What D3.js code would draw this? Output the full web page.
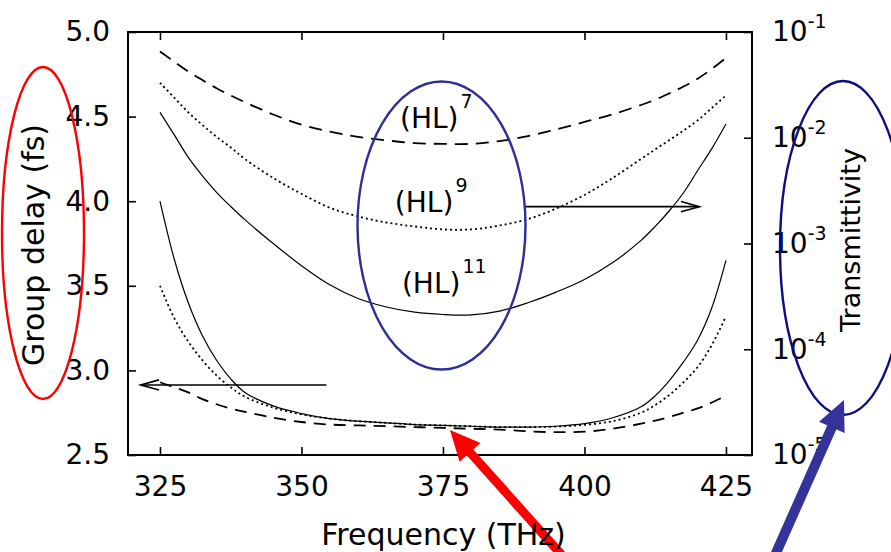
<!DOCTYPE html>
<html><head><meta charset="utf-8">
<script src="https://cdn.jsdelivr.net/npm/d3@7"></script>
<style>
body{margin:0;background:#fff}
svg{display:block}
text{font-family:"DejaVu Sans",sans-serif;fill:#000}
</style></head>
<body><svg id="chart" width="891" height="552"></svg>
<script>
// ---- data ----
const freq = [325, 327.5, 330, 332.5, 335, 337.5, 340, 345, 350, 355, 360, 365, 370, 375, 380, 385, 390, 395, 400, 405, 410, 412.5, 415, 417.5, 420, 422.5, 425];
// transmittivity (right, log axis)
const tr7  = [0.0653,0.0525,0.0423,0.0351,0.0294,0.0251,0.0217,0.0166,0.0133,0.0114,0.0102,0.00944,0.0089,0.00875,0.00875,0.0093,0.01035,0.0120,0.0141,0.0167,0.0204,0.0229,0.0263,0.0305,0.0362,0.0447,0.0569];
const tr9  = [0.0331,0.0240,0.0174,0.0132,0.0102,0.0081,0.0063,0.00417,0.00295,0.00218,0.00180,0.00158,0.00145,0.00136,0.00136,0.00148,0.0017,0.00214,0.00288,0.00417,0.0063,0.00776,0.0095,0.0117,0.0146,0.0191,0.0251];
const tr11 = [0.0174,0.0107,0.00653,0.00437,0.00305,0.00224,0.00168,0.0010,0.000617,0.000407,0.000302,0.000251,0.000224,0.000213,0.000211,0.000229,0.000275,0.000347,0.000457,0.00066,0.00107,0.00145,0.00204,0.00302,0.0049,0.0079,0.0135];
// group delay (left axis, fs)
const gd7  = [2.93,2.90,2.87,2.83,2.80,2.775,2.755,2.72,2.695,2.68,2.675,2.67,2.665,2.66,2.655,2.65,2.64,2.635,2.638,2.655,2.685,2.703,2.725,2.75,2.775,2.81,2.85];
const gd9  = [3.50,3.31,3.17,3.06,2.97,2.90,2.845,2.78,2.74,2.715,2.70,2.69,2.68,2.675,2.67,2.665,2.665,2.668,2.678,2.70,2.75,2.795,2.855,2.93,3.02,3.15,3.32];
const gd11 = [4.00,3.66,3.40,3.205,3.06,2.95,2.87,2.79,2.745,2.715,2.70,2.69,2.68,2.675,2.67,2.665,2.665,2.67,2.685,2.72,2.785,2.85,2.94,3.05,3.18,3.37,3.65];
const xTicks = [325, 350, 375, 400, 425];
const yLeftTicks = [2.5, 3.0, 3.5, 4.0, 4.5, 5.0];
const yRightTicks = [1e-5, 1e-4, 1e-3, 1e-2, 1e-1];
const yRightExp = ["-5", "-4", "-3", "-2", "-1"];
const seriesLabels = [
  {base: "(HL)", sup: "7",  f: 367.4,  t: 0.01236},
  {base: "(HL)", sup: "9",  f: 366.5,  t: 0.0020},
  {base: "(HL)", sup: "11", f: 367.75, t: 3.38e-4}
];

// ---- scales ----
const svg = d3.select('#chart');
const x  = d3.scaleLinear().domain([319.35, 429.6]).range([128, 752]);
const yL = d3.scaleLinear().domain([2.5, 5]).range([455, 32]);
const yR = d3.scaleLog().domain([1e-5, 1e-1]).range([455, 32]);

// ---- axes ----
const fontSize = 28;
const gx = svg.append('g').attr('transform', 'translate(0,455)')
  .call(d3.axisBottom(x).tickValues(xTicks).tickSize(-8).tickPadding(21).tickFormat(d3.format('d')));
const gt = svg.append('g').attr('transform', 'translate(0,32)')
  .call(d3.axisTop(x).tickValues(xTicks).tickSize(-8).tickFormat(''));
const gl = svg.append('g').attr('transform', 'translate(128,0)')
  .call(d3.axisLeft(yL).tickValues(yLeftTicks).tickSize(-8).tickPadding(18).tickFormat(d3.format('.1f')));
const gr = svg.append('g').attr('transform', 'translate(752,0)')
  .call(d3.axisRight(yR).tickValues(yRightTicks).tickSize(-8).tickPadding(20).tickFormat(''));
[gx, gt, gl, gr].forEach(g => {
  g.select('.domain').remove();
  g.selectAll('.tick line').attr('stroke', '#000').attr('stroke-width', 1.6);
  g.selectAll('.tick text').attr('font-size', fontSize).attr('font-family', '"DejaVu Sans",sans-serif').attr('fill', '#000');
});
// right log labels: 10^n
gr.selectAll('.tick text').each(function(d, i) {
  const t = d3.select(this);
  t.text(null);
  t.append('tspan').text('10');
  t.append('tspan').attr('font-size', 19).attr('dy', '-13').text(yRightExp[i]);
});

// plot box
svg.append('rect')
  .attr('x', x.range()[0]).attr('y', yL.range()[1])
  .attr('width', x.range()[1] - x.range()[0])
  .attr('height', yL.range()[0] - yL.range()[1])
  .attr('fill', 'none').attr('stroke', '#000').attr('stroke-width', 2);

// ---- curves ----
const curveType = d3.curveCatmullRom.alpha(0.5);
const lineL = vals => d3.line().curve(curveType).x((d, i) => x(freq[i])).y(d => yL(d))(vals);
const lineR = vals => d3.line().curve(curveType).x((d, i) => x(freq[i])).y(d => yR(d))(vals);
const curves = [
  {d: lineR(tr7),  dash: '13,8', w: 1.8},
  {d: lineR(tr9),  dash: '2,3',  w: 1.8},
  {d: lineR(tr11), dash: null,   w: 1.2},
  {d: lineL(gd7),  dash: '12,8', w: 1.8},
  {d: lineL(gd9),  dash: '2,3',  w: 1.8},
  {d: lineL(gd11), dash: null,   w: 1.2}
];
svg.append('g').selectAll('path').data(curves).join('path')
  .attr('d', c => c.d).attr('fill', 'none').attr('stroke', '#000')
  .attr('stroke-width', c => c.w)
  .attr('stroke-dasharray', c => c.dash);

// series labels
seriesLabels.forEach(s => {
  const t = svg.append('text').attr('x', x(s.f)).attr('y', yR(s.t)).attr('font-size', 28);
  t.append('tspan').text(s.base);
  t.append('tspan').attr('font-size', 19).attr('dy', -20).attr('dx', 2).text(s.sup);
});

// black arrows (axis indicators)
function lineArrow(x1, y1, x2, y2) {
  const g = svg.append('g').attr('stroke', '#000').attr('stroke-width', 1.6).attr('fill', 'none');
  g.append('line').attr('x1', x1).attr('y1', y1).attr('x2', x2).attr('y2', y2);
  const a = Math.atan2(y2 - y1, x2 - x1), L = 19, s = 0.27;
  g.append('path').attr('d',
    `M${x2 - L * Math.cos(a - s)},${y2 - L * Math.sin(a - s)} L${x2},${y2} L${x2 - L * Math.cos(a + s)},${y2 - L * Math.sin(a + s)}`);
}
lineArrow(x(354.4), yL(2.914), x(321.6), yL(2.914));
lineArrow(x(389.5), yR(0.00223), x(420.3), yR(0.00223));

// ---- annotation overlays ----
svg.append('ellipse').attr('cx', 43).attr('cy', 233).attr('rx', 41).attr('ry', 166)
  .attr('fill', 'none').attr('stroke', '#ff0000').attr('stroke-width', 2.4);
svg.append('ellipse').attr('cx', 441.5).attr('cy', 225.5).attr('rx', 84).attr('ry', 144)
  .attr('fill', 'none').attr('stroke', '#2e2e96').attr('stroke-width', 2.4);
svg.append('ellipse').attr('cx', 843).attr('cy', 248).attr('rx', 63).attr('ry', 167)
  .attr('fill', 'none').attr('stroke', '#0c0c84').attr('stroke-width', 2.4);

function fatArrow(tx, ty, hx, hy, color, shaftW, headL, headW) {
  const dx = hx - tx, dy = hy - ty, len = Math.hypot(dx, dy);
  const ux = dx / len, uy = dy / len, px = -uy, py = ux;
  const bx = hx - ux * headL, by = hy - uy * headL;
  svg.append('line').attr('x1', tx).attr('y1', ty).attr('x2', bx + ux * 2).attr('y2', by + uy * 2)
    .attr('stroke', color).attr('stroke-width', shaftW);
  svg.append('path').attr('fill', color)
    .attr('d', `M${hx},${hy} L${bx + px * headW},${by + py * headW} L${bx - px * headW},${by - py * headW} Z`);
}
fatArrow(568, 562, 450, 430, '#ff0000', 9, 30, 14);
fatArrow(772, 562, 844, 400, '#333399', 10, 30, 14);

// axis titles
svg.append('text').attr('x', 443.5).attr('y', 545).attr('text-anchor', 'middle')
  .attr('font-size', 30).text('Frequency (THz)');
svg.append('text').attr('transform', 'translate(44,245) rotate(-90)').attr('text-anchor', 'middle')
  .attr('font-size', 30).text('Group delay (fs)');
svg.append('text').attr('transform', 'translate(860,240) rotate(-90)').attr('text-anchor', 'middle')
  .attr('font-size', 27).text('Transmittivity');
</script></body></html>
